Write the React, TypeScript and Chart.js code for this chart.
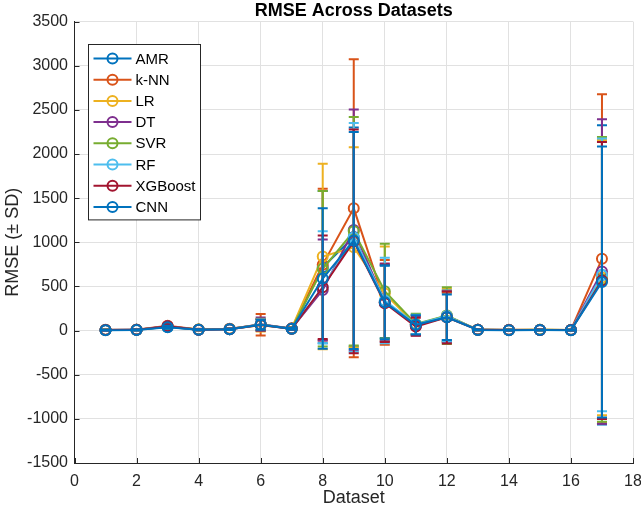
import { useEffect, useRef } from "react";
import { Chart, registerables } from "chart.js";

Chart.register(...registerables);

// Dataset indices on the x axis
const datasetIds = [1, 2, 3, 4, 5, 6, 7, 8, 9, 10, 11, 12, 13, 14, 15, 16, 17];

const seriesNames = ["AMR", "k-NN", "LR", "DT", "SVR", "RF", "XGBoost", "CNN"];
const seriesColors = ["#0072BD", "#D95319", "#EDB120", "#7E2F8E", "#77AC30", "#4DBEEE", "#A2142F", "#0072BD"];

// Mean RMSE per dataset and its standard deviation
const amrMean = [6, 8, 40, 10, 15, 70, 22, 718, 1060, 325, 70, 160, 8, 6, 7, 6, 630];
const amrSd = [4, 5, 18, 6, 8, 60, 12, 862, 1240, 410, 110, 270, 5, 4, 4, 4, 1695];

const knnMean = [8, 10, 55, 12, 20, 66, 25, 747, 1385, 320, 60, 150, 10, 8, 8, 7, 813];
const knnSd = [5, 6, 25, 8, 10, 123, 14, 860, 1688, 480, 115, 280, 6, 5, 5, 4, 1863];

const lrMean = [7, 9, 45, 11, 18, 60, 24, 839, 944, 420, 65, 170, 9, 7, 8, 6, 600];
const lrSd = [4, 5, 20, 7, 9, 70, 12, 1051, 1134, 532, 105, 300, 5, 4, 5, 4, 1560];

const dtMean = [6, 9, 48, 10, 17, 72, 23, 460, 1138, 320, 55, 160, 9, 7, 7, 6, 670];
const dtSd = [4, 5, 20, 6, 9, 75, 12, 572, 1365, 440, 110, 290, 5, 4, 4, 4, 1725];

const svrMean = [7, 9, 42, 11, 18, 68, 22, 700, 1124, 446, 75, 170, 9, 7, 8, 6, 580];
const svrSd = [4, 5, 18, 6, 9, 65, 12, 880, 1294, 537, 115, 321, 5, 4, 5, 4, 1612];

const rfMean = [6, 8, 44, 10, 16, 65, 21, 491, 1055, 340, 70, 165, 8, 6, 7, 6, 630];
const rfSd = [4, 5, 19, 6, 8, 62, 11, 635, 1295, 484, 110, 290, 5, 4, 4, 4, 1545];

const xgbMean = [6, 8, 50, 10, 16, 62, 20, 491, 1011, 310, 45, 150, 8, 6, 7, 6, 567];
const xgbSd = [4, 5, 22, 6, 8, 60, 11, 586, 1268, 438, 100, 296, 5, 4, 4, 4, 1568];

const cnnMean = [5, 7, 38, 9, 14, 65, 20, 590, 1020, 321, 65, 150, 7, 5, 6, 5, 551];
const cnnSd = [4, 5, 16, 5, 7, 55, 10, 795, 1230, 420, 110, 258, 4, 3, 4, 3, 1535];

const seriesMeans = [amrMean, knnMean, lrMean, dtMean, svrMean, rfMean, xgbMean, cnnMean];
const seriesSds = [amrSd, knnSd, lrSd, dtSd, svrSd, rfSd, xgbSd, cnnSd];

const FONT = "'Liberation Sans', Arial, Helvetica, sans-serif";
const AXIS_COLOR = "#262626";

// Vertical ± SD bars with caps, drawn just before each series' own line
const errorBarPlugin = {
  id: "errorBars",
  beforeDatasetDraw(chart: any, args: any) {
    const ds = chart.data.datasets[args.index];
    const errs: number[] = ds.errors;
    if (!errs) return;
    const { ctx } = chart;
    const xs = chart.scales.x;
    const ys = chart.scales.y;
    const cap = 5;
    ctx.save();
    ctx.strokeStyle = ds.borderColor;
    ctx.lineWidth = 2;
    ctx.lineCap = "butt";
    ds.data.forEach((p: any, k: number) => {
      const x = xs.getPixelForValue(p.x);
      const yHi = ys.getPixelForValue(p.y + errs[k]);
      const yLo = ys.getPixelForValue(p.y - errs[k]);
      ctx.beginPath();
      ctx.moveTo(x, yHi);
      ctx.lineTo(x, yLo);
      ctx.moveTo(x - cap, yHi);
      ctx.lineTo(x + cap, yHi);
      ctx.moveTo(x - cap, yLo);
      ctx.lineTo(x + cap, yLo);
      ctx.stroke();
    });
    ctx.restore();
  },
};

// Short tick marks pointing into the plot from the left and bottom axes
const innerTicksPlugin = {
  id: "innerTicks",
  beforeDatasetsDraw(chart: any) {
    const { ctx, chartArea } = chart;
    const xs = chart.scales.x;
    const ys = chart.scales.y;
    const len = 5;
    ctx.save();
    ctx.strokeStyle = AXIS_COLOR;
    ctx.lineWidth = 1;
    ctx.beginPath();
    xs.ticks.forEach((t: any) => {
      const x = Math.round(xs.getPixelForValue(t.value)) + 0.5;
      ctx.moveTo(x, chartArea.bottom);
      ctx.lineTo(x, chartArea.bottom - len);
    });
    ys.ticks.forEach((t: any) => {
      const y = Math.round(ys.getPixelForValue(t.value)) + 0.5;
      ctx.moveTo(chartArea.left, y);
      ctx.lineTo(chartArea.left + len, y);
    });
    ctx.stroke();
    ctx.restore();
  },
};

// Boxed legend in the upper-left corner of the plot area
const legendBoxPlugin = {
  id: "legendBox",
  afterDraw(chart: any) {
    const { ctx, chartArea } = chart;
    const left = Math.round(chartArea.left + 13) + 0.5;
    const top = Math.round(chartArea.top + 22) + 0.5;
    const rowH = 21.2;
    const n = chart.data.datasets.length;
    const width = 112;
    const height = 14 + rowH * (n - 1) + 13;
    ctx.save();
    ctx.fillStyle = "#ffffff";
    ctx.fillRect(left, top, width, height);
    ctx.strokeStyle = AXIS_COLOR;
    ctx.lineWidth = 1;
    ctx.strokeRect(left, top, width, height);
    ctx.font = `15px ${FONT}`;
    ctx.textBaseline = "middle";
    ctx.textAlign = "left";
    chart.data.datasets.forEach((ds: any, i: number) => {
      const y = top + 14 + i * rowH;
      ctx.strokeStyle = ds.borderColor;
      ctx.lineWidth = 2;
      ctx.beginPath();
      ctx.moveTo(left + 5, y);
      ctx.lineTo(left + 43, y);
      ctx.stroke();
      ctx.beginPath();
      ctx.arc(left + 24, y, 5, 0, Math.PI * 2);
      ctx.stroke();
      ctx.fillStyle = "#000000";
      ctx.fillText(ds.label, left + 47, y + 1);
    });
    ctx.restore();
  },
};

export default function App() {
  const canvasRef = useRef<HTMLCanvasElement | null>(null);

  useEffect(() => {
    document.body.style.margin = "0";
    document.body.style.overflow = "hidden";
    const canvas = canvasRef.current;
    if (!canvas) return;

    const datasets = seriesNames.map((name, i) => ({
      label: name,
      data: seriesMeans[i].map((v, k) => ({ x: datasetIds[k], y: v })),
      errors: seriesSds[i],
      borderColor: seriesColors[i],
      backgroundColor: "rgba(0,0,0,0)",
      borderWidth: 2,
      pointRadius: 5,
      pointBorderWidth: 2,
      pointBorderColor: seriesColors[i],
      pointBackgroundColor: "rgba(0,0,0,0)",
      tension: 0,
      fill: false,
      order: seriesNames.length - i,
    }));

    const chart = new Chart(canvas, {
      type: "line",
      data: { datasets } as any,
      options: {
        animation: false,
        responsive: false,
        devicePixelRatio: 1,
        events: [],
        layout: { padding: { left: 0, right: 8, top: 0, bottom: 0 } },
        plugins: {
          legend: { display: false },
          tooltip: { enabled: false },
          title: {
            display: true,
            text: "RMSE Across Datasets",
            fullSize: false,
            color: "#000000",
            font: { family: FONT, size: 18, weight: "bold", lineHeight: 1.2 },
            padding: { top: 0, bottom: 0 },
          },
        },
        scales: {
          x: {
            type: "linear",
            min: 0,
            max: 18,
            ticks: {
              stepSize: 2,
              padding: 9,
              color: AXIS_COLOR,
              font: { family: FONT, size: 16, lineHeight: 1.2 },
              callback: (v: any) => String(v),
            },
            grid: { color: "#e1e1e1", drawTicks: false },
            border: { color: AXIS_COLOR, width: 1 },
            title: {
              display: true,
              text: "Dataset",
              color: AXIS_COLOR,
              font: { family: FONT, size: 18, lineHeight: 1.2 },
              padding: { top: 0, bottom: 4.2 },
            },
            afterFit: (s: any) => {
              s.height = 50;
              s.paddingLeft = 0;
              s.paddingRight = 0;
            },
          },
          y: {
            type: "linear",
            min: -1500,
            max: 3500,
            ticks: {
              stepSize: 500,
              padding: 6.5,
              color: AXIS_COLOR,
              font: { family: FONT, size: 16, lineHeight: 1.2 },
              callback: (v: any) => String(v),
            },
            grid: { color: "#e1e1e1", drawTicks: false },
            border: { color: AXIS_COLOR, width: 1 },
            title: {
              display: true,
              text: "RMSE (± SD)",
              color: AXIS_COLOR,
              font: { family: FONT, size: 18, lineHeight: 1.2 },
              padding: { top: 2, bottom: 0 },
            },
            afterFit: (s: any) => {
              s.width = 74.5;
              s.paddingTop = 0;
              s.paddingBottom = 0;
            },
          },
        },
      } as any,
      plugins: [errorBarPlugin, innerTicksPlugin, legendBoxPlugin],
    });

    return () => chart.destroy();
  }, []);

  return (
    <div style={{ width: 641, height: 513, background: "#ffffff" }}>
      <canvas ref={canvasRef} width={641} height={513} style={{ display: "block" }} />
    </div>
  );
}
